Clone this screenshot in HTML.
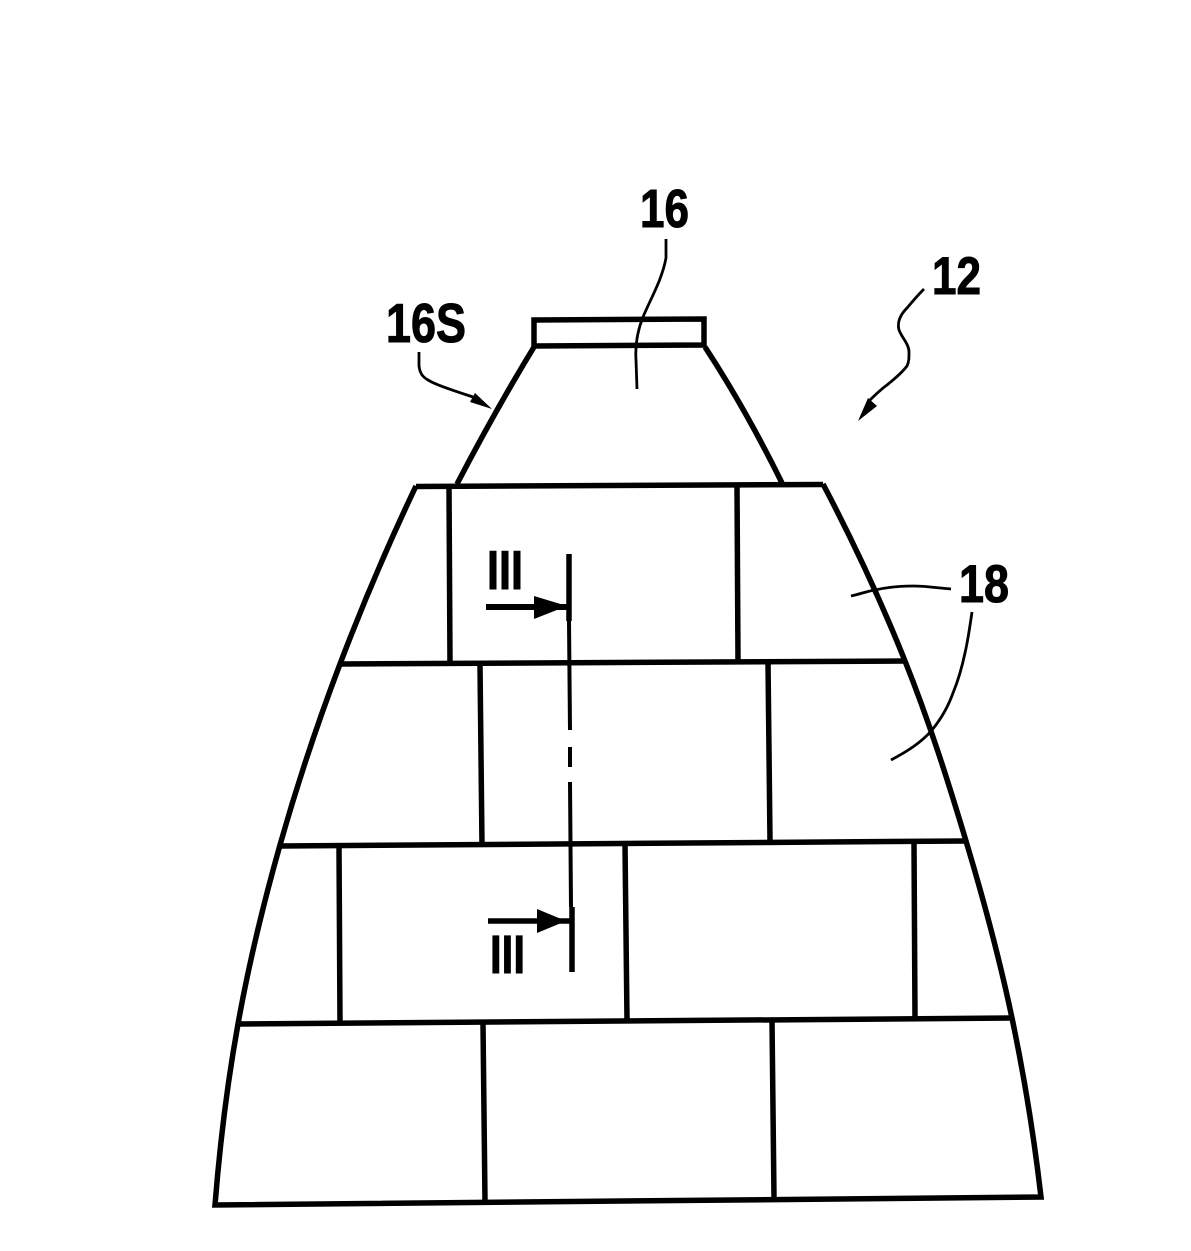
<!DOCTYPE html>
<html>
<head>
<meta charset="utf-8">
<style>
html,body{margin:0;padding:0;background:#fff;}
svg{display:block;}
text{font-family:"Liberation Sans",sans-serif;fill:#000;font-weight:bold;stroke:#000;stroke-width:1;}
</style>
</head>
<body>
<svg width="1191" height="1251" viewBox="0 0 1191 1251" xmlns="http://www.w3.org/2000/svg">
<g fill="none" stroke="#000" stroke-width="5.500" stroke-linecap="butt">
<!-- top cap -->
<path d="M534 320 L704 319 L704 345 L534 346 Z"/>
<path d="M534 347 Q495 411 457 484"/>
<path d="M705 347 Q745 408 782 483"/>
<!-- outline -->
<path d="M416 486.500 L823 484.500"/>
<path d="M416 486 C387.800 545.300 362.500 604.700 340 664 C317.100 724.300 297.100 784.700 280 845 C263.100 904.700 248.700 964.300 238 1024 C227.100 1084.300 219.800 1144.700 215 1205 L1041 1197 C1034.100 1137.300 1024.500 1077.700 1012 1018 C999.600 959 983.700 900 966 841 C948 781 929 721 905 661 C881.400 602 854 543 823 484"/>
<!-- horizontals -->
<path d="M340 664 L905 661"/>
<path d="M280 846 L966 841"/>
<path d="M238 1024 L1012 1018"/>
<!-- verticals -->
<path d="M449 487 L450 663"/>
<path d="M737 485 L738 661"/>
<path d="M480 665 L482 845"/>
<path d="M768 662 L770 841"/>
<path d="M339 846 L340 1023"/>
<path d="M625 844 L627 1020"/>
<path d="M914 842 L915 1018"/>
<path d="M483 1024 L485 1201"/>
<path d="M772 1020 L774 1198"/>
</g>
<!-- section line -->
<g fill="none" stroke="#000" stroke-linecap="butt">
<path d="M569 554 L569 621" stroke-width="5.500"/>
<path d="M569 621 L570 730" stroke-width="4"/>
<path d="M570 747 L570 767" stroke-width="4"/>
<path d="M570 782 L571 907" stroke-width="4"/>
<path d="M572 907 L572 972" stroke-width="5.500"/>
<path d="M486 607 L569 607" stroke-width="6"/>
<path d="M488 921 L570 921" stroke-width="5.500"/>
</g>
<path d="M534 596 L567 606 L534 619 Z" fill="#000"/>
<path d="M537 909 L566 921 L537 933 Z" fill="#000"/>
<!-- leaders -->
<g fill="none" stroke="#000" stroke-width="2.800">
<path d="M666 239 L666 258 C662 280 650 300 643 317 C637 332 635 345 636 360 L637 389"/>
<path d="M419 352 L419 366 C420 374 423 377 428 380 C436 385 455 391 473 397"/>
<path d="M924 289 C917 296 912 302 907 308 C900 315 897 322 899 330 C902 338 909 344 909 352 C909 358 909 362 907 366 C901 374 893 380 887 385 C880 390 874 396 868 402"/>
<path d="M851 596 C860 594 868 591 875 590 C888 587 900 586 913 586 C926 586 938 588 951 589"/>
<path d="M972 612 C970 626 968 640 965 653 C962 667 958 681 953 693 C948 707 941 719 932 730 C921 743 906 752 891 760"/>
</g>
<path d="M492 409 L475 393 L470 402 Z" fill="#000"/>
<path d="M858 421 L868 398 L877 406 Z" fill="#000"/>
<!-- labels -->
<text x="640" y="227" font-size="54" textLength="49" lengthAdjust="spacingAndGlyphs">16</text>
<text x="386" y="342" font-size="55" textLength="80" lengthAdjust="spacingAndGlyphs">16S</text>
<text x="932" y="294" font-size="53" textLength="49" lengthAdjust="spacingAndGlyphs">12</text>
<text x="959" y="602" font-size="53" textLength="50" lengthAdjust="spacingAndGlyphs">18</text>
<text x="487" y="589" font-size="55" textLength="36" lengthAdjust="spacingAndGlyphs">III</text>
<text x="490" y="973" font-size="54" textLength="35" lengthAdjust="spacingAndGlyphs">III</text>
</svg>
</body>
</html>
